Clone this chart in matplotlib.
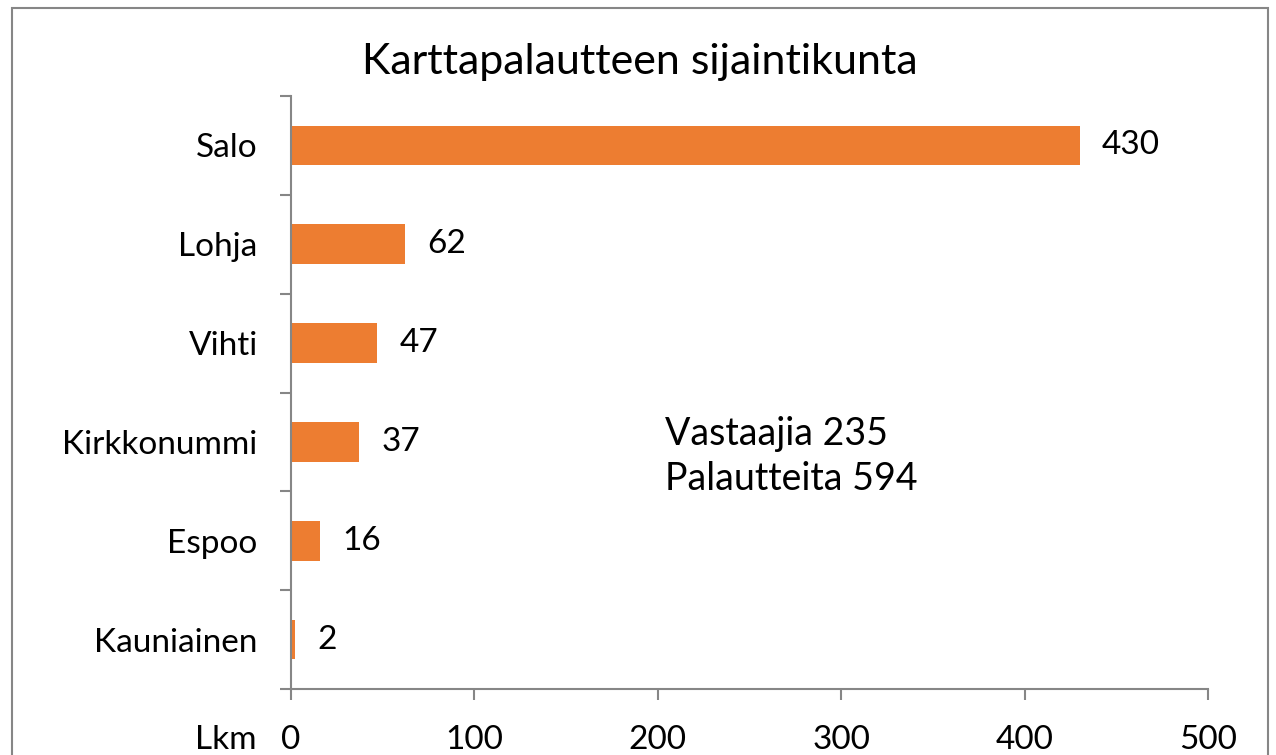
import matplotlib.pyplot as plt
from matplotlib.patches import Rectangle

# data
kunnat = ["Salo", "Lohja", "Vihti", "Kirkkonummi", "Espoo", "Kauniainen"]
lkm = [430, 62, 47, 37, 16, 2]
xticks = [0, 100, 200, 300, 400, 500]
otsikko = "Karttapalautteen sijaintikunta"
info = "Vastaajia 235\nPalautteita 594"

plt.rcParams['font.family'] = ['Lato', 'DejaVu Sans']
W, H = 1276, 755
fig = plt.figure(figsize=(W / 100, H / 100), dpi=100)
ax = fig.add_axes([291 / W, 1 - 689 / H, (1208 - 291) / W, (689 - 96) / H])

oranssi = '#ED7D31'
harmaa = '#868686'
fs = 24
pos = list(range(len(kunnat)))
ax.barh(pos, lkm, height=0.4, color=oranssi)
ax.set_ylim(len(kunnat) - 0.5, -0.5)
ax.set_xlim(0, 500)

for p, v in zip(pos, lkm):
    ax.annotate(str(v), (v, p), xytext=(16, 0), textcoords='offset points',
                va='center', ha='left', fontsize=fs)

ax.set_yticks(pos)
ax.set_yticklabels(kunnat, fontsize=fs)
ax.set_yticks([i - 0.5 for i in range(len(kunnat) + 1)], minor=True)
ax.tick_params(axis='y', which='major', length=0, pad=24)
ax.tick_params(axis='y', which='minor', length=8, width=1.5, color=harmaa)
ax.set_xticks(xticks)
ax.set_xticklabels([str(t) for t in xticks], fontsize=fs)
ax.tick_params(axis='x', length=8, width=1.5, color=harmaa, pad=18)

for s in ['top', 'right']:
    ax.spines[s].set_visible(False)
for s in ['left', 'bottom']:
    ax.spines[s].set_color(harmaa)
    ax.spines[s].set_linewidth(1.5)

ax.text(204, 3.15, info, fontsize=27, va='center', ha='left', linespacing=1.3)
fig.text(257 / W, 1 - 740 / H, "Lkm", fontsize=fs, ha='right', va='center')
fig.text(640 / W, 1 - 62 / H, otsikko, fontsize=31, ha='center', va='center')

fig.patches.append(Rectangle((12 / W, -0.05), (1268 - 12) / W, 1 - 8 / H + 0.05,
                             transform=fig.transFigure, fill=False,
                             edgecolor=harmaa, linewidth=1.5))

fig.savefig("out.png", dpi=100)
